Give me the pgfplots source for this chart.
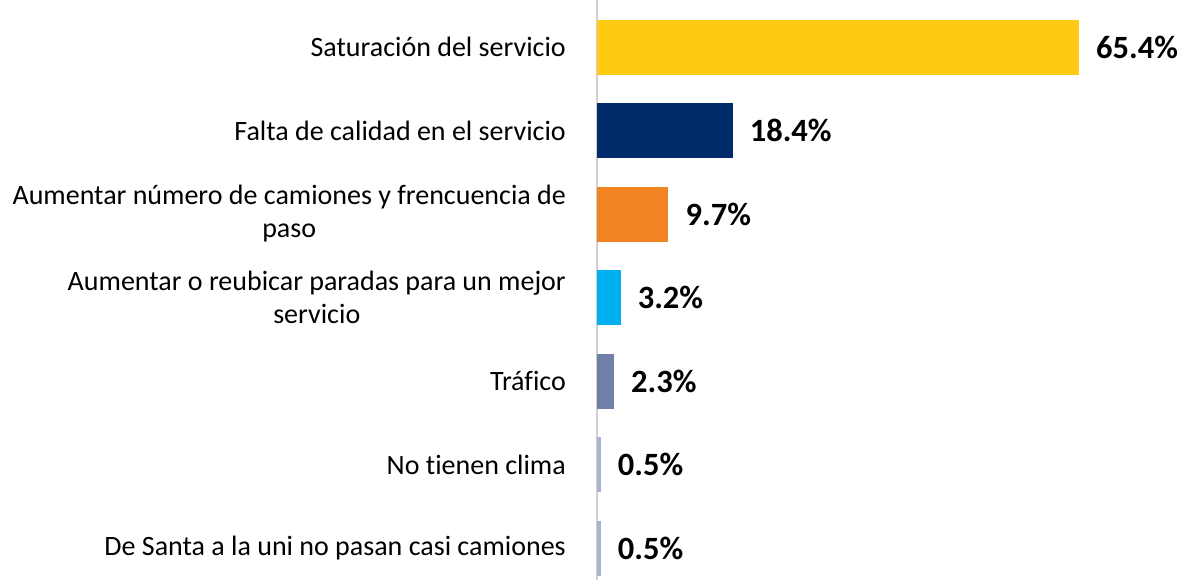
\documentclass[border=0pt]{standalone}
\usepackage{pgfplots}
\pgfplotsset{compat=1.18}
\usepackage{fontspec}
\setmainfont[Ligatures={NoCommon}]{Carlito}
\definecolor{cYel}{HTML}{FFCA14}
\definecolor{cNavy}{HTML}{002B6B}
\definecolor{cOra}{HTML}{F28322}
\definecolor{cBlue}{HTML}{00B0F0}
\definecolor{cSlate}{HTML}{6F7FA8}
\definecolor{cLight}{HTML}{A8B3D1}
\definecolor{cAxis}{HTML}{D0D0D0}
\begin{document}
\begin{tikzpicture}
\begin{axis}[
  scale only axis,
  width=587pt, height=580pt,
  xmin=0, xmax=79.65,
  ymin=-0.563, ymax=6.383,
  y dir=reverse,
  hide x axis,
  axis y line*=left,
  y axis line style={draw=none},
  xbar, bar width=55pt, bar shift=0pt,
  ytick={0,1,2,3,4,5,6},
  yticklabels={
    {Saturación del servicio},
    {Falta de calidad en el servicio},
    {Aumentar número de camiones y frencuencia de\\paso},
    {Aumentar o reubicar paradas para un mejor\\servicio},
    {Tráfico},
    {No tienen clima},
    {De Santa a la uni no pasan casi camiones}},
  yticklabel style={align=center, anchor=east, inner sep=0pt, xshift=-31pt,
    font=\fontsize{28}{33}\selectfont},
  major tick length=0pt,
  clip=false,
  /pgf/number format/assume math mode=true,
  nodes near coords={\pgfmathprintnumber[fixed,precision=1,fixed zerofill,assume math mode=true]{\pgfplotspointmeta}\%},
  every node near coord/.append style={anchor=west, inner sep=0pt, xshift=17pt,
    font=\bfseries\fontsize{32.5}{38}\selectfont, text=black},
]
\draw[cAxis, line width=2pt] (rel axis cs:0,0) -- (rel axis cs:0,1);
\coordinate (a) at (rel axis cs:0,0);
\coordinate (b) at (rel axis cs:1,1);
\addplot[draw=none, fill=cYel] coordinates {(65.4,0)};
\addplot[draw=none, fill=cNavy] coordinates {(18.4,1)};
\addplot[draw=none, fill=cOra] coordinates {(9.7,2)};
\addplot[draw=none, fill=cBlue] coordinates {(3.2,3)};
\addplot[draw=none, fill=cSlate] coordinates {(2.3,4)};
\addplot[draw=none, fill=cLight] coordinates {(0.5,5)};
\addplot[draw=none, fill=cLight] coordinates {(0.5,6)};
\end{axis}
\pgfresetboundingbox
\path ([xshift=-597pt]a) rectangle (b);
\end{tikzpicture}
\end{document}
